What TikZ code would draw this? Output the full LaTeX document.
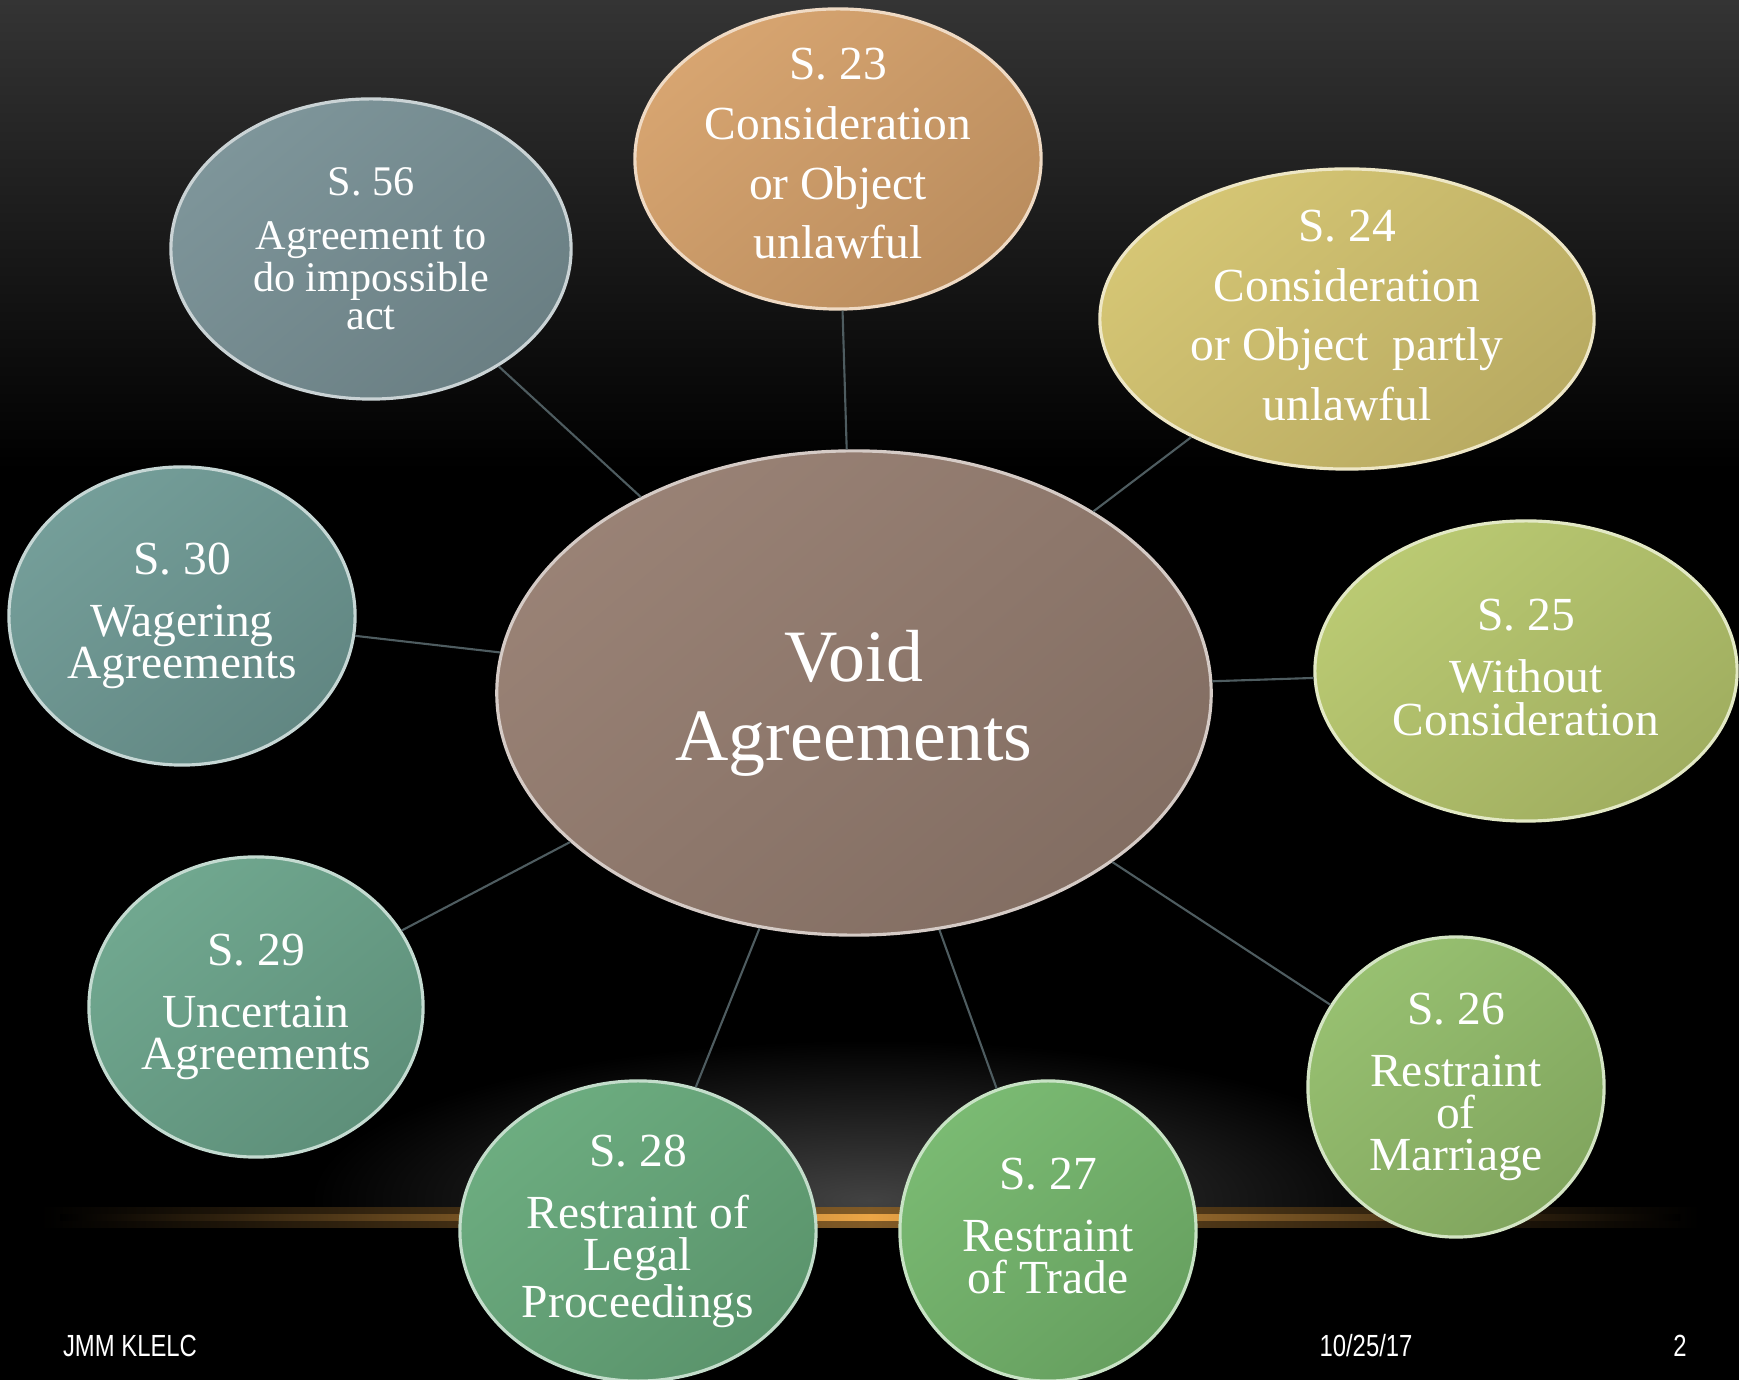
\documentclass[tikz,border=0pt]{standalone}
\usepackage{fontspec}
\setmainfont{Liberation Serif}
\newfontfamily\footfont[FakeStretch=0.78]{Liberation Sans}
\usetikzlibrary{shapes.geometric}

\definecolor{voidc}{RGB}{150,126,113}
\definecolor{cA}{RGB}{214,162,108} % S. 23
\definecolor{cB}{RGB}{122,146,151} % S. 56
\definecolor{cC}{RGB}{212,196,112} % S. 24
\definecolor{cD}{RGB}{112,155,150} % S. 30
\definecolor{cE}{RGB}{184,200,110} % S. 25
\definecolor{cF}{RGB}{108,165,140} % S. 29
\definecolor{cG}{RGB}{104,170,124} % S. 28
\definecolor{cH}{RGB}{118,184,110} % S. 27
\definecolor{cI}{RGB}{148,190,108} % S. 26
\definecolor{linkc}{RGB}{78,92,96}
\definecolor{glowc}{RGB}{235,165,70}

\tikzset{
    bubble/.style={ellipse, minimum height=3cm, line width=.9pt, inner sep=0pt}, % the round cells
    tint/.style={top color=#1!97!white, bottom color=#1!87!black, shading angle=40, draw=#1!40!white}, % glossy fill
    txt/.style={text=white, align=center, font=\fontsize{13.5}{12}\selectfont},
    link/.style={draw=linkc, line width=.6pt},
    foot/.style={text=white, font=\footfont\fontsize{8.7}{10}\selectfont},
}

\begin{document}
\begin{tikzpicture}[x=0.01cm, y=-0.01cm]

    % Sfondo
    \useasboundingbox (0,0) rectangle (1739,1380);
    \fill[black] (0,0) rectangle (1739,1380);
    \shade[top color={rgb,255:red,52;green,52;blue,52}, bottom color=black] (0,0) rectangle (1739,470);
    \begin{scope}
        \clip (0,1000) rectangle (1739,1218);
        \shade[inner color={rgb,255:red,66;green,66;blue,66}, outer color=black] (870,1200) ellipse (560 and 160);
    \end{scope}
    \shade[left color=black, right color=black, middle color=glowc!55!black] (40,1208) rectangle (1700,1228);
    \shade[left color=black, right color=black, middle color=glowc] (60,1215) rectangle (1680,1221);

    % Nodi
    \node[bubble, tint=voidc, minimum width=7.14cm, minimum height=4.84cm,
          label={[txt, font=\fontsize{21}{22.4}\selectfont, yshift=-3pt]center:{Void\\Agreements}}] (void) at (854,693) {};
    \node[bubble, tint=cA, minimum width=4.06cm,
          label={[txt, font=\fontsize{13.5}{17}\selectfont, yshift=1.5pt]center:{S. 23\\Consideration\\or Object\\unlawful}}] (s23) at (838,159) {};
    \node[bubble, tint=cB, minimum width=4cm,
          label={[txt, font=\fontsize{12}{10.8}\selectfont]center:{S. 56\\[4.5pt]Agreement to\\do impossible\\act}}] (s56) at (371,249) {};
    \node[bubble, tint=cC, minimum width=4.94cm,
          label={[txt, font=\fontsize{13.5}{17}\selectfont, yshift=1pt]center:{S. 24\\Consideration\\or Object\ \ partly\\unlawful}}] (s24) at (1347,319) {};
    \node[bubble, tint=cD, minimum width=3.46cm, minimum height=2.98cm,
          label={[txt]center:{S. 30\\[5.6pt]Wagering\\Agreements}}] (s30) at (182,616) {};
    \node[bubble, tint=cE, minimum width=4.22cm,
          label={[txt, yshift=1pt]center:{S. 25\\[5.6pt]Without\\Consideration}}] (s25) at (1526,671) {};
    \node[bubble, tint=cF, minimum width=3.34cm,
          label={[txt]center:{S. 29\\[5.6pt]Uncertain\\Agreements}}] (s29) at (256,1007) {};
    \node[bubble, tint=cG, minimum width=3.56cm,
          label={[txt]center:{S. 28\\[5.6pt]Restraint of\\Legal\\Proceedings}}] (s28) at (638,1231) {};
    \node[bubble, tint=cH, minimum width=2.96cm,
          label={[txt, yshift=1.5pt]center:{S. 27\\[5.6pt]Restraint\\of Trade}}] (s27) at (1048,1231) {};
    \node[bubble, tint=cI, minimum width=2.96cm,
          label={[txt]center:{S. 26\\[5.6pt]Restraint\\of\\Marriage}}] (s26) at (1456,1087) {};

    % Collegamenti
    \foreach \n in {s23,s56,s24,s30,s25,s29,s28,s27,s26}
        \draw[link] (void) -- (\n);

    % Piede
    \node[foot] (lefttag) at (130,1346) {JMM KLELC};
    \node[foot] (datetag) at (1366,1346) {10/25/17};
    \node[foot] (pagetag) at (1680,1346) {2};

\end{tikzpicture}
\end{document}
